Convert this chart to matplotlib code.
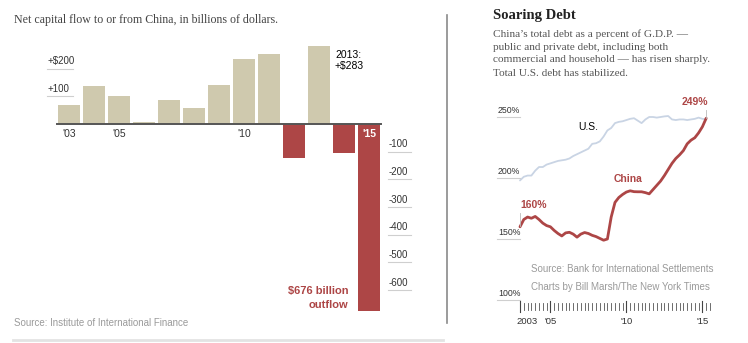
import numpy as np
import matplotlib
matplotlib.use('Agg')
import matplotlib.pyplot as plt

# Net capital flow, billions of dollars
years = list(range(2003, 2016))
flows = [70, 137, 102, 9, 85, 58, 140, 234, 252, -122, 283, -104, -676]
flow_ticks_pos = [100, 200]
flow_ticks_pos_labels = ['+100', '+$200']
flow_ticks_neg = [-100, -200, -300, -400, -500, -600]
year_labels = {2003: "'03", 2005: "'05", 2010: "'10"}

# Total debt as % of GDP, quarterly from 2003 Q1
debt_start = 2003
us_debt = [198, 201, 202, 202, 206, 209, 209, 211, 212, 213,
           214, 214.5, 215, 216, 218, 219.5, 221, 222.5, 224, 228,
           228.5, 230, 234, 239, 241, 245, 246, 246.5, 247.5, 248.5,
           249, 247, 245, 248, 250, 250, 249.5, 250, 250.5, 250.8,
           248, 247.5, 248, 248, 247.5, 248, 248.5, 249.5, 248.5, 248]
china_debt = [160, 166, 168, 167, 168.5, 166, 163, 161, 160, 157,
              154.5, 152.5, 155, 155.5, 154, 151.5, 154, 155.3, 154.5, 153,
              152, 150.5, 149, 150, 168, 180, 184, 186.5, 188.5, 189.5,
              188.8, 188.7, 188.7, 188, 187, 190.5, 194, 197.5, 202, 207,
              212, 216, 219, 222.5, 228, 231, 233, 237, 242, 249]
debt_ticks = [100, 150, 200, 250]
debt_year_labels = {2003: '2003', 2005: "'05", 2010: "'10", 2015: "'15"}

subtitle = ['China\u2019s total debt as a percent of G.D.P. \u2014',
            'public and private debt, including both',
            'commercial and household \u2014 has risen sharply.',
            'Total U.S. debt has stabilized.']

TAN = '#CFC9AE'
RED = '#AD4646'
DARK = '#333333'
GRID = '#CFCFCF'

W, H = 748, 343
fig = plt.figure(figsize=(W / 100, H / 100), dpi=100)
fig.patch.set_facecolor('white')


def fx(px):
    return px / W


def fy(py):
    return 1 - py / H


SANS = 'Liberation Sans'
SERIF = 'Liberation Serif'

################################################################################
# left panel: bar chart

ax1 = fig.add_axes([0, 0, 447 / W, 1])
ax1.axis('off')
ax1.set_xlim(2003 - 69 / 25, 2003 + (447 - 69) / 25)
ax1.set_ylim(-(H - 124) / 0.2765, 124 / 0.2765)

colors = [TAN if v >= 0 else RED for v in flows]
ax1.bar(years, flows, width=0.88, color=colors, zorder=2)
ax1.plot([years[0] - 0.47, years[-1] + 0.47], [0, 0], color='#555555', lw=1.4, zorder=3)

for v, lab in zip(flow_ticks_pos, flow_ticks_pos_labels):
    ax1.plot([2002.1, 2003.16], [v, v], color=GRID, lw=0.8)
    ax1.text(2002.15, v + 8, lab, fontsize=7, family=SANS, color=DARK, va='bottom')
for v in flow_ticks_neg:
    ax1.plot([2015.75, 2016.68], [v, v], color=GRID, lw=0.8)
    ax1.text(2015.8, v + 8, '-' + str(abs(v)), fontsize=7, family=SANS,
             color=DARK, va='bottom')

for yr, lab in year_labels.items():
    ax1.text(yr, -36, lab, fontsize=7.5, family=SANS, color=DARK, ha='center', va='center')
ax1.text(2015, -36, "'15", fontsize=7.5, family=SANS, color='white', weight='bold',
         ha='center', va='center', zorder=4)

ax1.text(2013.64, 283 - 15, '2013:\n+$283', fontsize=7.5, family=SANS, color='black',
         ha='left', va='top', linespacing=1.2)
ax1.text(2014.18, flows[-1] + 2, '$676 billion\noutflow', fontsize=8, family=SANS,
         color=RED, weight='bold', ha='right', va='bottom', linespacing=1.5)

fig.text(fx(14), fy(20), 'Net capital flow to or from China, in billions of dollars.',
         fontsize=8.6, family=SERIF, color='#444444', va='center')
fig.text(fx(14), fy(323), 'Source: Institute of International Finance',
         fontsize=7, family=SANS, color='#9a9a9a', va='center')

# panel separators
fig.add_artist(plt.Line2D([fx(447), fx(447)], [fy(15), fy(323)], color='#8a8a8a', lw=1.2))
fig.add_artist(plt.Line2D([fx(13), fx(443)], [fy(340), fy(340)], color='#e3e3e3', lw=2))

################################################################################
# right panel: debt lines

ax2 = fig.add_axes([448 / W, 0, 300 / W, 1])
ax2.axis('off')
ax2.set_xlim(2003 - (520 - 448) / 15.2, 2003 + (W - 520) / 15.2)
ax2.set_ylim(250 - (H - 117) / 1.22, 250 + 117 / 1.22)

t = debt_start + np.arange(len(us_debt)) / 4
ax2.plot(t, us_debt, color='#C9D4E4', lw=1.3, solid_capstyle='round')
ax2.plot(t, china_debt, color=RED, lw=2.0, solid_joinstyle='round', solid_capstyle='round')

for v in debt_ticks:
    ax2.plot([2001.5, 2003.0], [v, v], color=GRID, lw=0.8)
    ax2.text(2001.55, v + 2, f'{v}%', fontsize=6.3, family=SANS, color=DARK, va='bottom')

# quarter ticks along the bottom
for i in range(len(us_debt) + 1):
    q = debt_start + i / 4
    if round(q, 2) in debt_year_labels:
        ax2.plot([q, q], [90.2, 98.8], color='#444444', lw=0.8)
    else:
        ax2.plot([q, q], [92.0, 97.5], color='#555555', lw=0.6)
for yr, lab in debt_year_labels.items():
    ha = 'left' if yr == 2003 else 'center'
    xx = yr - 0.2 if yr == 2003 else yr
    ax2.text(xx, 82, lab, fontsize=6.8, family=SANS, color=DARK, ha=ha, va='center')

# value callouts
ax2.plot([t[0], t[0]], [china_debt[0] + 1, china_debt[0] + 11], color='#bbbbbb', lw=0.6)
ax2.text(t[0], china_debt[0] + 18, f'{china_debt[0]:.0f}%', fontsize=7.5, family=SANS,
         color=RED, weight='bold', ha='left', va='center')
ax2.plot([t[-1], t[-1]], [china_debt[-1], china_debt[-1] + 7], color='#bbbbbb', lw=0.6)
ax2.text(t[-1] + 0.1, china_debt[-1] + 13, f'{china_debt[-1]:.0f}%', fontsize=7.5, family=SANS,
         color=RED, weight='bold', ha='right', va='center')
ax2.text(2007.5, 242, 'U.S.', fontsize=7.5, family=SANS, color='black', ha='center', va='center')
ax2.text(2010.1, 199, 'China', fontsize=7.5, family=SANS, color=RED, weight='bold',
         ha='center', va='center')

fig.text(fx(493), fy(15), 'Soaring Debt', fontsize=10.5, family=SERIF, weight='bold',
         color='#222222', va='center')
for k, line in enumerate(subtitle):
    fig.text(fx(493), fy(34 + 13 * k), line, fontsize=8.1, family=SERIF,
             color='#555555', va='center')
fig.text(fx(531), fy(269), 'Source: Bank for International Settlements',
         fontsize=7, family=SANS, color='#9a9a9a', va='center')
fig.text(fx(531), fy(287), 'Charts by Bill Marsh/The New York Times',
         fontsize=7, family=SANS, color='#9a9a9a', va='center')

fig.savefig('out.png', dpi=100, facecolor='white')
